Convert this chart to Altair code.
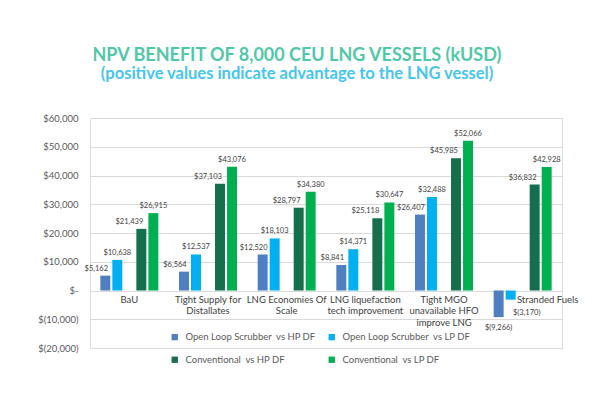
import altair as alt
import pandas as pd

# ---- data ----
cat_keys = ["BaU", "Tight Supply", "LNG Economies", "LNG liquefaction", "Tight MGO", "Stranded Fuels"]
cat_labels = [
    "BaU",
    "Tight Supply for\nDistallates",
    "LNG Economies Of\nScale",
    "LNG liquefaction\ntech improvement",
    "Tight MGO\nunavailable HFO\nimprove LNG",
    "Stranded Fuels",
]
series = [
    "Open Loop Scrubber\u00a0 vs HP DF",
    "Open Loop Scrubber\u00a0 vs LP DF",
    "Conventional\u00a0 vs HP DF",
    "Conventional\u00a0 vs LP DF",
]
ols_hp = [5162, 6564, 12520, 8841, 26407, -9266]
ols_lp = [10638, 12537, 18103, 14371, 32488, -3170]
conv_hp = [21439, 37103, 28797, 25118, 45985, 36832]
conv_lp = [26915, 43076, 34380, 30647, 52066, 42928]
colors = ["#4f7fc0", "#00b0f0", "#156e4c", "#00b050"]
y_ticks = [-20000, -10000, 0, 10000, 20000, 30000, 40000, 50000, 60000]

rows = []
for si, vals in enumerate([ols_hp, ols_lp, conv_hp, conv_lp]):
    for c, v in zip(cat_keys, vals):
        rows.append({"cat": c, "series": series[si], "sidx": si, "value": v})
df = pd.DataFrame(rows)
cat_df = pd.DataFrame({"cat": cat_keys, "label": cat_labels})

offset_domain = [series[0], series[1], "gap", series[2], series[3]]

FONT = "Lato"

y_scale = alt.Scale(domain=[-20000, 60000], nice=False, zero=False)
y_axis = alt.Axis(
    values=y_ticks,
    grid=True,
    gridColor="#d9d9d9",
    gridWidth=1,
    domain=False,
    ticks=False,
    labelPadding=12,
    labelFont=FONT,
    labelFontSize=9.5,
    labelColor="#595959",
    labelOverlap=False,
    labelExpr="datum.value == 0 ? '$-' : (datum.value < 0 ? '$(' + format(-datum.value, ',') + ')' : '$' + format(datum.value, ','))",
)
x_enc = alt.X("cat:N", sort=cat_keys, scale=alt.Scale(paddingInner=0, paddingOuter=0), axis=None)
xo_enc = alt.XOffset("series:N", scale=alt.Scale(domain=offset_domain, paddingInner=0.17, paddingOuter=0.86))
y_enc = alt.Y("value:Q", scale=y_scale, axis=y_axis, title=None)

base = alt.Chart(df).encode(x=x_enc, xOffset=xo_enc, y=y_enc)

bars = base.mark_bar().encode(
    color=alt.Color(
        "series:N",
        scale=alt.Scale(domain=series, range=colors),
        legend=alt.Legend(
            title=None,
            orient="none",
            legendX=80,
            legendY=214,
            columns=2,
            direction="horizontal",
            columnPadding=11,
            rowPadding=12,
            symbolType="square",
            symbolSize=40,
            symbolStrokeWidth=0,
            labelFont=FONT,
            labelFontSize=9.5,
            labelColor="#595959",
            labelOffset=6,
            labelLimit=300,
        ),
    )
)

label_expr = "datum.value < 0 ? '$(' + format(-datum.value, ',') + ')' : '$' + format(datum.value, ',')"


def value_labels(cond, dx, dy, baseline):
    return (
        base.transform_calculate(lbl=label_expr)
        .transform_filter(cond)
        .mark_text(font=FONT, fontSize=7.5, color="#404040", dx=dx, dy=dy, baseline=baseline)
        .encode(text="lbl:N")
    )


t1 = value_labels("datum.value >= 0 && datum.sidx == 0", -9, -3, "bottom")
t2 = value_labels("datum.value >= 0 && datum.sidx == 2", -12, -3, "bottom")
t3 = value_labels("datum.value >= 0 && (datum.sidx == 1 || datum.sidx == 3)", 0, -3, "bottom")
t4 = value_labels("datum.value < 0 && datum.sidx == 0", 0, 7, "top")
t5 = value_labels("datum.value < 0 && datum.sidx == 1", 16, 9, "top")

cat_base = alt.Chart(cat_df).encode(
    x=alt.X("cat:N", sort=cat_keys, scale=alt.Scale(paddingInner=0, paddingOuter=0), axis=None),
    y=alt.Y(datum=0, scale=y_scale, axis=y_axis, title=None),
    text="label:N",
)
cat_style = dict(font=FONT, fontSize=9.5, color="#404040", baseline="top", dy=4, lineBreak="\n", lineHeight=11.5)
cats_main = cat_base.transform_filter("datum.cat != 'Stranded Fuels'").mark_text(**cat_style)
cats_last = cat_base.transform_filter("datum.cat == 'Stranded Fuels'").mark_text(dx=25, **cat_style)

chart = (
    alt.layer(bars, t1, t2, t3, t4, t5, cats_main, cats_last)
    .properties(
        width=472,
        height=230,
        padding={"left": 82, "top": 110, "right": 30, "bottom": 37},
        autosize="none",
        title=alt.TitleParams(
            text="NPV BENEFIT OF 8,000 CEU LNG VESSELS (kUSD)",
            subtitle="(positive values indicate advantage to the LNG vessel)",
            font="Lato",
            fontSize=18,
            fontWeight="bold",
            color="#50c8a8",
            subtitleFont="Lato",
            subtitleFontSize=16.5,
            subtitleFontWeight="bold",
            subtitleColor="#45c6ee",
            anchor="middle",
            frame="group",
            dx=-29,
            offset=31,
            subtitlePadding=1,
        ),
    )
    .configure_view(stroke=None)
    .configure(background="white")
)

chart.save("out.html", embed_options={"renderer": "svg", "actions": False})
